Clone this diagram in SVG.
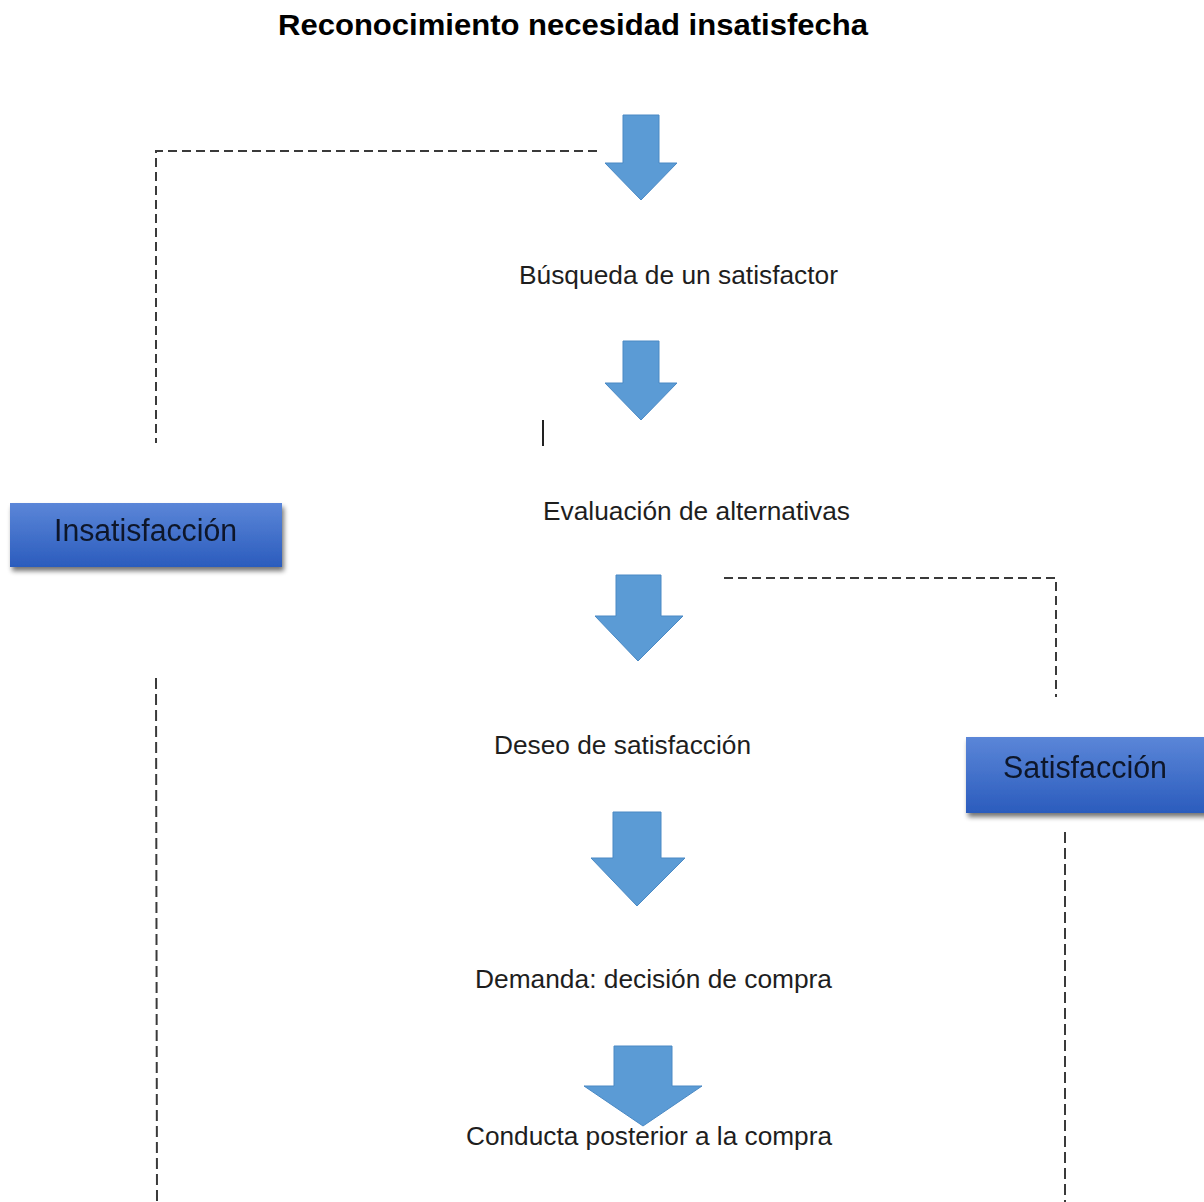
<svg xmlns="http://www.w3.org/2000/svg" width="1204" height="1202" viewBox="0 0 1204 1202">
<defs>
  <linearGradient id="boxGrad" x1="0" y1="0" x2="0" y2="1">
    <stop offset="0" stop-color="#5b86d8"/>
    <stop offset="1" stop-color="#2b5cbd"/>
  </linearGradient>
  <filter id="shadow" x="-10%" y="-20%" width="130%" height="160%">
    <feGaussianBlur in="SourceAlpha" stdDeviation="2.5"/>
    <feOffset dx="2" dy="4" result="b"/>
    <feComponentTransfer><feFuncA type="linear" slope="0.55"/></feComponentTransfer>
    <feMerge><feMergeNode/><feMergeNode in="SourceGraphic"/></feMerge>
  </filter>
  <filter id="soft" x="-5%" y="-20%" width="110%" height="140%">
    <feGaussianBlur stdDeviation="0.6"/>
  </filter>
</defs>
<style>
  .arrow { fill: #5b9bd5; stroke: #4a89c4; stroke-width: 1; }
  .dash { fill: none; stroke: #3a3a3a; stroke-width: 2; stroke-dasharray: 9 5; }
  .vdash { fill: none; stroke: #3a3a3a; stroke-width: 2; stroke-dasharray: 11 5; }
  .lbl { font-family: "Liberation Sans", Arial, sans-serif; font-size: 26px; fill: #1e1e1e; }
  .title { font-family: "Liberation Sans", Arial, sans-serif; font-size: 30px; font-weight: bold; fill: #000; }
  .box { fill: url(#boxGrad); }
  .boxtxt { font-family: "Liberation Sans", Arial, sans-serif; font-size: 31px; fill: #10182a; }
</style>
<rect width="1204" height="1202" fill="#ffffff"/>

<g id="title">
  <text class="title" x="278" y="35" textLength="590" lengthAdjust="spacingAndGlyphs">Reconocimiento necesidad insatisfecha</text>
</g>

<g id="connectors">
  <polyline class="dash" points="597,151 156,151 156,443"/>
  <line class="vdash" x1="156" y1="678" x2="157" y2="1202"/>
  <polyline class="dash" points="724,578 1056,578 1056,697"/>
  <line class="vdash" x1="1065" y1="832" x2="1065" y2="1202"/>
  <line x1="543" y1="420" x2="543" y2="446" stroke="#222" stroke-width="2"/>
</g>

<g id="arrow1"><polygon class="arrow" points="623,115 659,115 659,163 677,163 641,200 605,163 623,163"/></g>
<g id="arrow2"><polygon class="arrow" points="623,341 659,341 659,383 677,383 641,420 605,383 623,383"/></g>
<g id="arrow3"><polygon class="arrow" points="616,575 661,575 661,616 683,616 638,661 595,616 616,616"/></g>
<g id="arrow4"><polygon class="arrow" points="613,812 661,812 661,858 685,858 637,906 591,858 613,858"/></g>
<g id="arrow5"><polygon class="arrow" points="614,1046 672,1046 672,1086 702,1086 643,1126 584,1086 614,1086"/></g>

<g id="busqueda"><text class="lbl" x="519" y="284" textLength="319" lengthAdjust="spacingAndGlyphs">Búsqueda de un satisfactor</text></g>
<g id="evaluacion"><text class="lbl" x="543" y="520" textLength="307" lengthAdjust="spacingAndGlyphs">Evaluación de alternativas</text></g>
<g id="deseo"><text class="lbl" x="494" y="754" textLength="257" lengthAdjust="spacingAndGlyphs">Deseo de satisfacción</text></g>
<g id="demanda"><text class="lbl" x="475" y="988" textLength="357" lengthAdjust="spacingAndGlyphs">Demanda: decisión de compra</text></g>
<g id="conducta"><text class="lbl" x="466" y="1145" textLength="366" lengthAdjust="spacingAndGlyphs">Conducta posterior a la compra</text></g>

<g id="insatisfaccion">
  <rect class="box" x="10" y="503" width="272" height="64" filter="url(#shadow)"/>
  <text class="boxtxt" x="54" y="541" textLength="183" lengthAdjust="spacingAndGlyphs" filter="url(#soft)">Insatisfacción</text>
</g>
<g id="satisfaccion">
  <rect class="box" x="966" y="737" width="242" height="76" filter="url(#shadow)"/>
  <text class="boxtxt" x="1003" y="778" textLength="164" lengthAdjust="spacingAndGlyphs" filter="url(#soft)">Satisfacción</text>
</g>
</svg>
